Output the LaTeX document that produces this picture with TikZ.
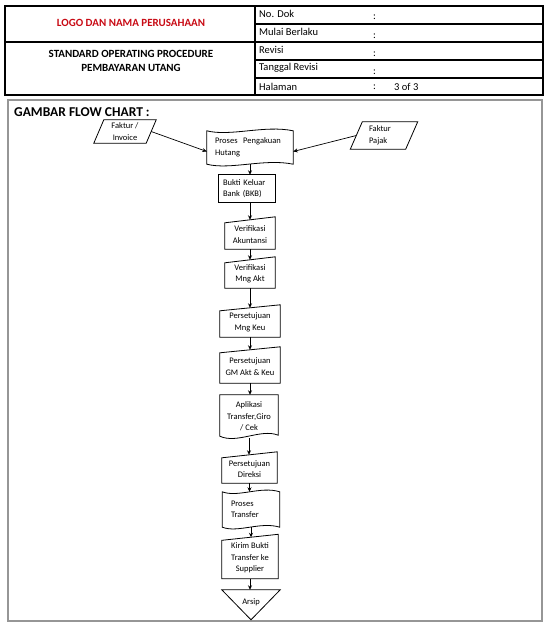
\documentclass[tikz,border=0pt]{standalone}
\usepackage{fontspec}
\setmainfont{Carlito}
\usetikzlibrary{arrows.meta,calc}
\definecolor{logored}{RGB}{200,10,20}
\definecolor{framegray}{RGB}{150,150,150}
\begin{document}
\begin{tikzpicture}[x=1pt,y=-1pt,
  hdr/.style={inner sep=0pt},
  lbl/.style={font=\fontsize{10.5}{12}\selectfont, inner sep=0pt, anchor=west},
  fbox/.style={draw=none, inner sep=0pt, align=center, font=\fontsize{8.5}{11.5}\selectfont},
  conn/.style={line width=0.7pt, -{Stealth[length=4.5pt,width=4pt]}},
  shp/.style={line width=0.8pt}
]
\useasboundingbox (0,0) rectangle (550,625);

% ---------- header table ----------
\draw[line width=2pt] (5,6) rectangle (543,95);
\draw[line width=1.2pt] (255,6) -- (255,95);
\draw[line width=1.2pt] (5,42) -- (255,42);
\foreach \yy in {24,42,60,78} \draw[line width=1.2pt] (255,\yy) -- (543,\yy);

\node[hdr, font=\fontsize{11}{13}\selectfont\bfseries, text=logored] (logo) at (131,23) {LOGO DAN NAMA PERUSAHAAN};
\node[hdr, font=\fontsize{11}{14}\selectfont\bfseries, align=center] (sop) at (131,61) {STANDARD OPERATING PROCEDURE\\PEMBAYARAN UTANG};

\node[lbl] (l1) at (259,14) {No. Dok};
\node[lbl] (l2) at (259,32) {Mulai Berlaku};
\node[lbl] (l3) at (259,50) {Revisi};
\node[lbl] (l4) at (259,68) {Tanggal Revisi};
\node[lbl] (l5) at (259,86.5) {Halaman};
\node[lbl] (c1) at (373,17) {:};
\node[lbl] (c2) at (373,36) {:};
\node[lbl] (c3) at (373,54) {:};
\node[lbl] (c4) at (373,72) {:};
\node[lbl] (c5) at (373,87) {:};
\node[lbl] (pg) at (394,87) {3 of 3};

% ---------- flow chart frame ----------
\draw[framegray, line width=1.3pt] (8,100) rectangle (542,621);
\node[anchor=west, inner sep=0pt, font=\fontsize{13.5}{15}\selectfont\bfseries] (title) at (14,112) {GAMBAR FLOW CHART :};

% ---------- nodes ----------
\node[fbox, minimum width=52pt, minimum height=23pt] (inv) at (125,131.5) {Faktur /\\Invoice};
\node[fbox, minimum width=55pt, minimum height=27pt, text width=30pt, align=left] (pajak) at (384,135.5) {Faktur\\Pajak};
\node[fbox, minimum width=86pt, minimum height=33pt, text width=70pt, align=left] (proc) at (250,147.5) {Proses~~Pengakuan\\Hutang};
\node[fbox, minimum width=56pt, minimum height=27pt, text width=48pt, align=left] (bkb) at (247,188.5) {Bukti Keluar\\Bank (BKB)};
\node[fbox, minimum width=50pt, minimum height=29pt] (va) at (250,234.5) {Verifikasi\\Akuntansi};
\node[fbox, minimum width=50pt, minimum height=28pt] (vm) at (250,274) {Verifikasi\\Mng Akt};
\node[fbox, minimum width=60pt, minimum height=29pt] (pk) at (250,322.5) {Persetujuan\\Mng Keu};
\node[fbox, minimum width=60pt, minimum height=33pt] (gm) at (250,366.5) {Persetujuan\\GM Akt \& Keu};
\node[fbox, minimum width=58pt, minimum height=43pt] (apl) at (249,416.5) {Aplikasi\\Transfer,Giro\\/ Cek};
\node[fbox, minimum width=55pt, minimum height=28pt] (dir) at (249.5,469) {Persetujuan\\Direksi};
\node[fbox, minimum width=57pt, minimum height=35pt, text width=40pt, align=left] (pt) at (251,509.5) {Proses\\Transfer};
\node[fbox, minimum width=56pt, minimum height=41pt] (kirim) at (250,558) {Kirim Bukti\\Transfer ke\\Supplier};
\node[fbox, minimum width=58pt, minimum height=24pt] (arsip) at (251,602) {Arsip};

% ---------- shapes ----------
% parallelograms
\draw[shp] ($(inv.north west)+(5,0)$) -- ($(inv.north east)+(5,0)$) -- ($(inv.south east)+(-5,0)$) -- ($(inv.south west)+(-5,0)$) -- cycle;
\draw[shp] ($(pajak.north west)+(6,0)$) -- ($(pajak.north east)+(6,0)$) -- ($(pajak.south east)+(-6,0)$) -- ($(pajak.south west)+(-6,0)$) -- cycle;
% punched tape shapes
\foreach \n in {proc,pt}{
\draw[shp] (\n.north west)
  .. controls ($(\n.north west)!0.27!(\n.north east)+(0,6)$) and ($(\n.north west)!0.67!(\n.north east)+(0,-6)$) .. (\n.north east)
  -- (\n.south east)
  .. controls ($(\n.south west)!0.67!(\n.south east)+(0,-6)$) and ($(\n.south west)!0.27!(\n.south east)+(0,6)$) .. (\n.south west)
  -- cycle;
}
% document shape
\draw[shp] (apl.north west) -- (apl.north east) -- ($(apl.south east)+(0,-3)$)
  .. controls ($(apl.south west)!0.7!(apl.south east)+(0,-10)$) and ($(apl.south west)!0.3!(apl.south east)+(0,6)$) .. ($(apl.south west)+(0,-2)$)
  -- cycle;
% process rectangle
\draw[shp] (bkb.north west) rectangle (bkb.south east);
% manual input shapes
\foreach \n in {va,vm,pk,gm,dir,kirim}{
\draw[shp] (\n.south west) -- ($(\n.north west)+(0,3)$) -- ($(\n.north east)+(0,-3)$) -- (\n.south east) -- cycle;
}
% merge triangle
\draw[shp] (arsip.north west) -- (arsip.north east) -- ($(arsip.north)+(0,30)$) -- cycle;

% ---------- connectors ----------
\draw[conn] (inv.east) -- ([yshift=-4pt]proc.west);
\draw[conn] (pajak.west) -- ([yshift=-4pt]proc.east);
\draw[conn] (proc.south) -- (proc.south |- bkb.north);
\draw[conn] (va.north |- bkb.south) -- (va.north);
\draw[conn] (va.south) -- (vm.north);
\draw[conn] (vm.south) -- (pk.north);
\draw[conn] (pk.south) -- (gm.north);
\draw[conn] (gm.south) -- (gm.south |- apl.north);
\draw[conn] (apl.south) -- (apl.south |- dir.north);
\draw[conn] (dir.south) -- (dir.south |- pt.north);
\draw[conn] (pt.south) -- (pt.south |- kirim.north);
\draw[conn] (kirim.south) -- (kirim.south |- arsip.north);
\end{tikzpicture}
\end{document}
